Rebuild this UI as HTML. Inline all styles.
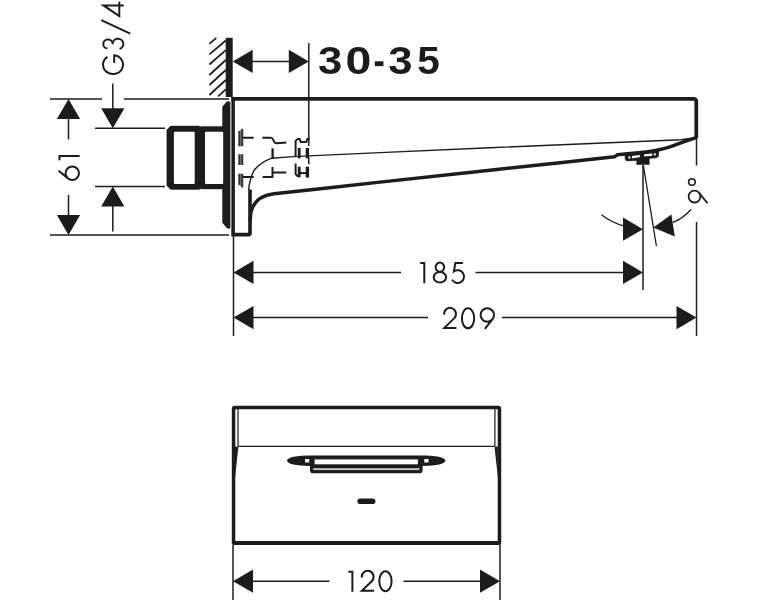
<!DOCTYPE html>
<html><head><meta charset="utf-8"><title>Drawing</title>
<style>
html,body{margin:0;padding:0;background:#fff;}
body{width:769px;height:600px;overflow:hidden;font-family:"Liberation Sans",sans-serif;}
svg{display:block;}
.b{font-family:"Liberation Sans",sans-serif;font-weight:bold;font-size:39px;fill:#1c1c1c;}
</style></head><body>
<svg width="769" height="600" viewBox="0 0 769 600">
<rect width="769" height="600" fill="#fff"/>
<line x1="50" y1="99" x2="102" y2="99" stroke="#1c1c1c" stroke-width="1.5" />
<line x1="124" y1="99" x2="229" y2="99" stroke="#1c1c1c" stroke-width="1.5" />
<line x1="50" y1="235" x2="229" y2="235" stroke="#1c1c1c" stroke-width="1.5" />
<line x1="95" y1="128.2" x2="165" y2="128.2" stroke="#1c1c1c" stroke-width="1.5" />
<line x1="95" y1="186.6" x2="165" y2="186.6" stroke="#1c1c1c" stroke-width="1.5" />
<line x1="68.5" y1="118" x2="68.5" y2="139.5" stroke="#1c1c1c" stroke-width="1.5" />
<line x1="68.5" y1="195" x2="68.5" y2="216" stroke="#1c1c1c" stroke-width="1.5" />
<polygon points="68.5,99 56.9,119 80.1,119" fill="#1c1c1c"/>
<polygon points="68.5,235 56.9,215 80.1,215" fill="#1c1c1c"/>
<line x1="112.8" y1="83.5" x2="112.8" y2="110" stroke="#1c1c1c" stroke-width="1.5" />
<line x1="112.8" y1="206" x2="112.8" y2="231.5" stroke="#1c1c1c" stroke-width="1.5" />
<polygon points="112.8,128.2 101.2,108.19999999999999 124.39999999999999,108.19999999999999" fill="#1c1c1c"/>
<polygon points="112.8,186.6 101.2,206.6 124.39999999999999,206.6" fill="#1c1c1c"/>
<g transform="translate(58.4,181.0) rotate(-90)" fill="none" stroke="#1c1c1c" stroke-width="2.0" stroke-linejoin="miter" stroke-linecap="butt"><path transform="translate(1.00,1.00)" d="M0.09999999999999964,12.9 A6.7,6.7 0 1 1 13.5,12.9 A6.7,6.7 0 1 1 0.09999999999999964,12.9 Z M9.3,-0.8 L1.60,8.67"/><path transform="translate(20.80,1.00)" d="M0,0.05 L4.1,0.05 M4.1,-0.95 L4.1,20.15"/></g>
<g transform="translate(102.7,75.3) rotate(-90)" fill="none" stroke="#1c1c1c" stroke-width="2.0" stroke-linejoin="miter" stroke-linecap="butt"><path transform="translate(1.20,1.00)" d="M17.3,3.8 A9.4,10 0 1 0 18.8,10.5 L11.0,10.5"/><path transform="translate(26.40,1.00)" d="M0.5,3.7 A4.45,4.65 0 1 1 4.6,8.9 A5.2,5.35 0 1 1 0,15.9"/><path transform="translate(41.60,1.00)" d="M0,26.6 L13.6,-2.4"/><path transform="translate(59.00,1.00)" d="M10.9,20.15 L10.9,-0.2 L0.3,15.6 L14.6,15.6"/></g>
<rect x="225.7" y="37.8" width="7" height="59.2" fill="#1c1c1c"/>
<line x1="209.4" y1="43.9" x2="216.3" y2="37.8" stroke="#1c1c1c" stroke-width="1.7" />
<line x1="209.4" y1="54.4" x2="225.8" y2="40.5" stroke="#1c1c1c" stroke-width="1.7" />
<line x1="209.4" y1="64.5" x2="225.8" y2="50.1" stroke="#1c1c1c" stroke-width="1.7" />
<line x1="209.4" y1="75" x2="225.8" y2="60" stroke="#1c1c1c" stroke-width="1.7" />
<line x1="209.4" y1="85" x2="225.8" y2="70" stroke="#1c1c1c" stroke-width="1.7" />
<line x1="209.4" y1="95" x2="225.8" y2="80" stroke="#1c1c1c" stroke-width="1.7" />
<line x1="218.1" y1="96.4" x2="225.8" y2="89.3" stroke="#1c1c1c" stroke-width="1.7" />
<line x1="250" y1="61.4" x2="290" y2="61.4" stroke="#1c1c1c" stroke-width="1.5" />
<polygon points="232.7,61.4 252.7,49.8 252.7,73.0" fill="#1c1c1c"/>
<polygon points="308.8,61.4 288.8,49.8 288.8,73.0" fill="#1c1c1c"/>
<line x1="308.8" y1="43" x2="308.8" y2="146" stroke="#1c1c1c" stroke-width="1.5" />
<line x1="308.8" y1="157.5" x2="308.8" y2="164.2" stroke="#1c1c1c" stroke-width="1.5" />
<rect x="374.8" y="61.3" width="8.6" height="4.8" fill="#1c1c1c"/>
<defs><filter id="idf" x="0" y="0" width="100%" height="100%" filterUnits="userSpaceOnUse" color-interpolation-filters="sRGB"><feOffset dx="0" dy="0"/></filter></defs><g filter="url(#idf)">
<text class="b" x="318.1" y="73.8" transform="translate(318.1,0) scale(1.12,1) translate(-318.1,0)">3</text>
<text class="b" x="345.4" y="73.8" transform="translate(345.4,0) scale(1.19,1) translate(-345.4,0)">0</text>
<text class="b" x="388.3" y="73.8" transform="translate(388.3,0) scale(1.12,1) translate(-388.3,0)">3</text>
<text class="b" x="417.2" y="73.8" transform="translate(417.2,0) scale(1.04,1) translate(-417.2,0)">5</text>
</g>
<path d="M231.5,98.9 L693.5,98.9 Q696.3,98.9 696.3,101.7 L696.3,138" stroke="#1c1c1c" stroke-width="3.8" fill="none" stroke-linejoin="round"/>
<path d="M696.3,137.6 L685,141.4 L670,146.9 Q660,150.1 646,152.0 L625,154 L617.5,154.7 L614.5,156.8 L560,162.7 L490,170.2 L380,182.1 L334,187.2 L295,191.5 L274,193.8 C262,195.2 253.6,200.4 250.9,212.4 L250.1,221" stroke="#1c1c1c" stroke-width="3.4" fill="none" stroke-linejoin="round"/>
<path d="M233.1,97 L233.1,234.6 L248.5,234.6 Q250,234.6 250,233 L250,189.4" stroke="#1c1c1c" stroke-width="3.6" fill="none" stroke-linejoin="miter"/>
<path d="M695,137.8 L681,139.7 L490,147.7 L380,152.6 L309,155.9 L290,156.9 L271.3,158.3 Q261.3,161.5 254.2,170.2 Q249.8,178 248.6,190" stroke="#1c1c1c" stroke-width="1.4" fill="none" />
<polygon points="222.3,106.7 226.7,101.5 230,101.5 230,228.6 227.3,228.6 222.3,222.8" fill="#1c1c1c"/>
<rect x="230" y="101.5" width="1.3" height="127" fill="#b0b0b0"/>
<path d="M170.6,126 L199.2,126 L200.2,126.8 L201.2,126.4 L223,126.4 L223,189 L201.2,189 L200.2,188.6 L199.2,189.4 L170.6,189.4 L166.8,185.6 L166.8,129.8 Z" stroke="#1c1c1c" stroke-width="0.4" fill="#1c1c1c" />
<rect x="173.9" y="131.7" width="20.8" height="52.3" rx="0.8" fill="#fff"/>
<rect x="205" y="131.7" width="18.2" height="52.3" rx="0.8" fill="#fff"/>
<path d="M625,153.5 L625,158.3 Q625,160.9 627.6,160.9 L636.7,160.4 L636.7,164.5 L649.3,164.5 L649.3,158.6 L656.3,157.8 Q658.7,157.5 658.7,155 L658.7,149.5 Z" stroke="#1c1c1c" stroke-width="0.5" fill="#1c1c1c" />
<polygon points="632.0,155.9 639.8,155.0 639.8,157.3 632.0,158.2" fill="#fff"/>
<polygon points="628.4,156.5 630.4,156.3 630.4,158.4 628.4,158.6" fill="#fff"/>
<polygon points="644.2,154.3 652.2,153.4 652.2,155.7 644.2,156.6" fill="#fff"/>
<polygon points="653.8,153.4 655.8,153.2 655.8,155.2 653.8,155.4" fill="#fff"/>
<path d="M239.3,131 L242.3,128.8 L242.3,146.3 L239.3,146.3 Z M239.3,154.3 H242.3 V165 H239.3 Z M239.3,173.7 H242.3 V187.5 L239.3,185 Z" fill="#8a8a8a"/>
<path d="M239.3,131 L239.3,146.3 M242.3,128.8 L242.3,146.3 M239.3,154.3 L239.3,165 M242.3,154.3 L242.3,165 M239.3,173.7 L239.3,185 M242.3,173.7 L242.3,187.5" stroke="#1c1c1c" stroke-width="2.0" fill="none" stroke-opacity="0.85"/>
<path d="M243,137.8 L253.7,137.8 M262.3,137.8 L270.5,137.8 Q272.5,137.8 273.3,139.8 L274.2,141.8 Q275,143.3 277,143.2 L286.3,142.5" stroke="#1c1c1c" stroke-width="2.0" fill="none" />
<path d="M272.6,148.3 L272.6,159" stroke="#1c1c1c" stroke-width="2.3" fill="none" />
<path d="M243,177 L253.7,177 M262.6,177 L272.5,177 L272.5,166.9 M272.5,172.5 L286.3,172.5" stroke="#1c1c1c" stroke-width="2.0" fill="none" />
<path d="M295.6,156.6 L295.6,141 L297.8,138.9 L299.8,138.9 L300.6,142 L306.4,142 L307.4,138.9 L309.4,138.9" stroke="#1c1c1c" stroke-width="2.0" fill="none" stroke-linejoin="round"/>
<path d="M299.2,147.9 L299.2,158.4" stroke="#1c1c1c" stroke-width="2.8" fill="none" />
<path d="M307.4,147.9 L307.4,158.4" stroke="#1c1c1c" stroke-width="3.4" fill="none" />
<path d="M295.6,163.5 L295.6,174 L298,176.6" stroke="#1c1c1c" stroke-width="2.0" fill="none" />
<path d="M299.2,166.7 L299.2,177.3" stroke="#1c1c1c" stroke-width="2.8" fill="none" />
<path d="M307.4,166.7 L307.4,177.6" stroke="#1c1c1c" stroke-width="3.4" fill="none" />
<path d="M299.5,173.1 L307,173.1" stroke="#1c1c1c" stroke-width="2.0" fill="none" />
<line x1="643" y1="165" x2="643" y2="290" stroke="#1c1c1c" stroke-width="1.5" />
<line x1="643.3" y1="165" x2="656.4" y2="246" stroke="#1c1c1c" stroke-width="1.3" />
<polygon points="643,229.2 623,217.6 623,240.79999999999998" fill="#1c1c1c"/>
<polygon points="653.3,227.6 671.4,214.6 674.8,236.4" fill="#1c1c1c"/>
<path d="M601.5,214.8 Q612,223 624.5,226.2" stroke="#1c1c1c" stroke-width="1.3" fill="none" />
<path d="M673,222.3 Q683,218.5 691,209.5" stroke="#1c1c1c" stroke-width="1.3" fill="none" />
<line x1="696.5" y1="138" x2="696.5" y2="165.5" stroke="#1c1c1c" stroke-width="1.5" />
<line x1="696.5" y1="222" x2="696.5" y2="336" stroke="#1c1c1c" stroke-width="1.5" />
<g fill="none" stroke="#1c1c1c" stroke-width="1.8"><circle cx="694.5" cy="196.6" r="5.9"/><path d="M699.09,192.89 L707.5,203.3"/><circle cx="691.9" cy="182" r="3.3" stroke-width="1.6"/></g>
<line x1="233.5" y1="236" x2="233.5" y2="336" stroke="#1c1c1c" stroke-width="1.5" />
<line x1="252" y1="272.4" x2="401" y2="272.4" stroke="#1c1c1c" stroke-width="1.5" />
<line x1="475.5" y1="272.4" x2="625" y2="272.4" stroke="#1c1c1c" stroke-width="1.5" />
<polygon points="233.5,272.4 253.5,260.79999999999995 253.5,284.0" fill="#1c1c1c"/>
<polygon points="643,272.4 623,260.79999999999995 623,284.0" fill="#1c1c1c"/>
<line x1="252" y1="317.6" x2="428" y2="317.6" stroke="#1c1c1c" stroke-width="1.5" />
<line x1="502" y1="317.6" x2="678" y2="317.6" stroke="#1c1c1c" stroke-width="1.5" />
<polygon points="233.5,317.6 253.5,306.0 253.5,329.20000000000005" fill="#1c1c1c"/>
<polygon points="696.5,317.6 676.5,306.0 676.5,329.20000000000005" fill="#1c1c1c"/>
<g transform="translate(419.2,262)" fill="none" stroke="#1c1c1c" stroke-width="2.0" stroke-linejoin="miter" stroke-linecap="butt"><path transform="translate(1.00,1.00)" d="M0,0.05 L4.1,0.05 M4.1,-0.95 L4.1,20.15"/><path transform="translate(14.50,1.00)" d="M6.2,8.9 A4.3,4.65 0 1 1 6.2,-0.4 A4.3,4.65 0 1 1 6.2,8.9 A6.2,5.35 0 1 1 6.2,19.6 A6.2,5.35 0 1 1 6.2,8.9"/><path transform="translate(32.50,1.00)" d="M11.2,0 L3.6,0 L2.2,8.4 A6.4,6.4 0 1 1 0.3,16.6"/></g>
<g transform="translate(442.7,307.7)" fill="none" stroke="#1c1c1c" stroke-width="2.0" stroke-linejoin="miter" stroke-linecap="butt"><path transform="translate(1.00,1.00)" d="M0.5,6.0 A5.9,6.1 0 1 1 10.9,9.2 L0.6,19.2 L12.8,19.2"/><path transform="translate(19.20,1.00)" d="M6.15,-0.4 A6.15,10 0 1 1 6.15,19.6 A6.15,10 0 1 1 6.15,-0.4 Z"/><path transform="translate(37.80,1.00)" d="M0.09999999999999964,6.3 A6.7,6.7 0 1 1 13.5,6.3 A6.7,6.7 0 1 1 0.09999999999999964,6.3 Z M4.4,20.2 L12.07,10.44"/></g>
<path d="M235,405.8 L498.2,405.8 Q501.2,405.8 501.2,408.8 L501.2,542.4 Q501.2,545 498.6,545 L234.4,545 Q231.8,545 231.8,542.4 L231.8,408.8 Q231.8,405.8 235,405.8 Z M235.3,409.3 L235.3,541.1 L497.7,541.1 L497.7,409.3 Z" stroke="#1c1c1c" stroke-width="0" fill="#1c1c1c" fill-rule="evenodd"/>
<path d="M238,409 L238,446 M494.9,409 L494.9,446" stroke="#1c1c1c" stroke-width="1.2" fill="none" />
<path d="M238,446.4 L494.9,446.4" stroke="#1c1c1c" stroke-width="1.4" fill="none" />
<polygon points="235,446.4 238.4,446.4 235,478" fill="#1c1c1c"/>
<polygon points="497.9,446.4 494.5,446.4 497.9,478" fill="#1c1c1c"/>
<path d="M287,460.5 C287.3,457.2 296,455.4 313,455.4 L419.5,455.4 C436.5,455.4 445.1,457.2 445.4,460.5 C445.1,463.8 437,465.8 422.6,465.9 L422.6,470.2 Q422.6,473.3 419.6,473.3 L313,473.3 Q310,473.3 310,470.2 L310,465.9 C295.5,465.8 287.3,463.8 287,460.5 Z" stroke="#1c1c1c" stroke-width="0" fill="#1c1c1c" />
<rect x="314.6" y="459.4" width="103.3" height="4.9" fill="#fff"/>
<rect x="313.2" y="468.1" width="106.2" height="2.0" fill="#c4c4c4"/>
<rect x="305" y="459" width="4.2" height="3.5" fill="#fff"/>
<rect x="424.3" y="459" width="4.2" height="3.5" fill="#fff"/>
<rect x="357.4" y="498.4" width="18" height="5.6" rx="2.8" fill="#1c1c1c"/>
<line x1="233" y1="545" x2="233" y2="600" stroke="#1c1c1c" stroke-width="1.5" />
<line x1="500" y1="545" x2="500" y2="600" stroke="#1c1c1c" stroke-width="1.5" />
<line x1="252" y1="581.2" x2="329.4" y2="581.2" stroke="#1c1c1c" stroke-width="1.5" />
<line x1="403.4" y1="581.2" x2="481" y2="581.2" stroke="#1c1c1c" stroke-width="1.5" />
<polygon points="233,581.2 253,569.6 253,592.8000000000001" fill="#1c1c1c"/>
<polygon points="500,581.2 480,569.6 480,592.8000000000001" fill="#1c1c1c"/>
<g transform="translate(347.3,570.6)" fill="none" stroke="#1c1c1c" stroke-width="2.0" stroke-linejoin="miter" stroke-linecap="butt"><path transform="translate(1.00,1.00)" d="M0,0.05 L4.1,0.05 M4.1,-0.95 L4.1,20.15"/><path transform="translate(14.00,1.00)" d="M0.5,6.0 A5.9,6.1 0 1 1 10.9,9.2 L0.6,19.2 L12.8,19.2"/><path transform="translate(32.00,1.00)" d="M6.15,-0.4 A6.15,10 0 1 1 6.15,19.6 A6.15,10 0 1 1 6.15,-0.4 Z"/></g>
</svg></body></html>
